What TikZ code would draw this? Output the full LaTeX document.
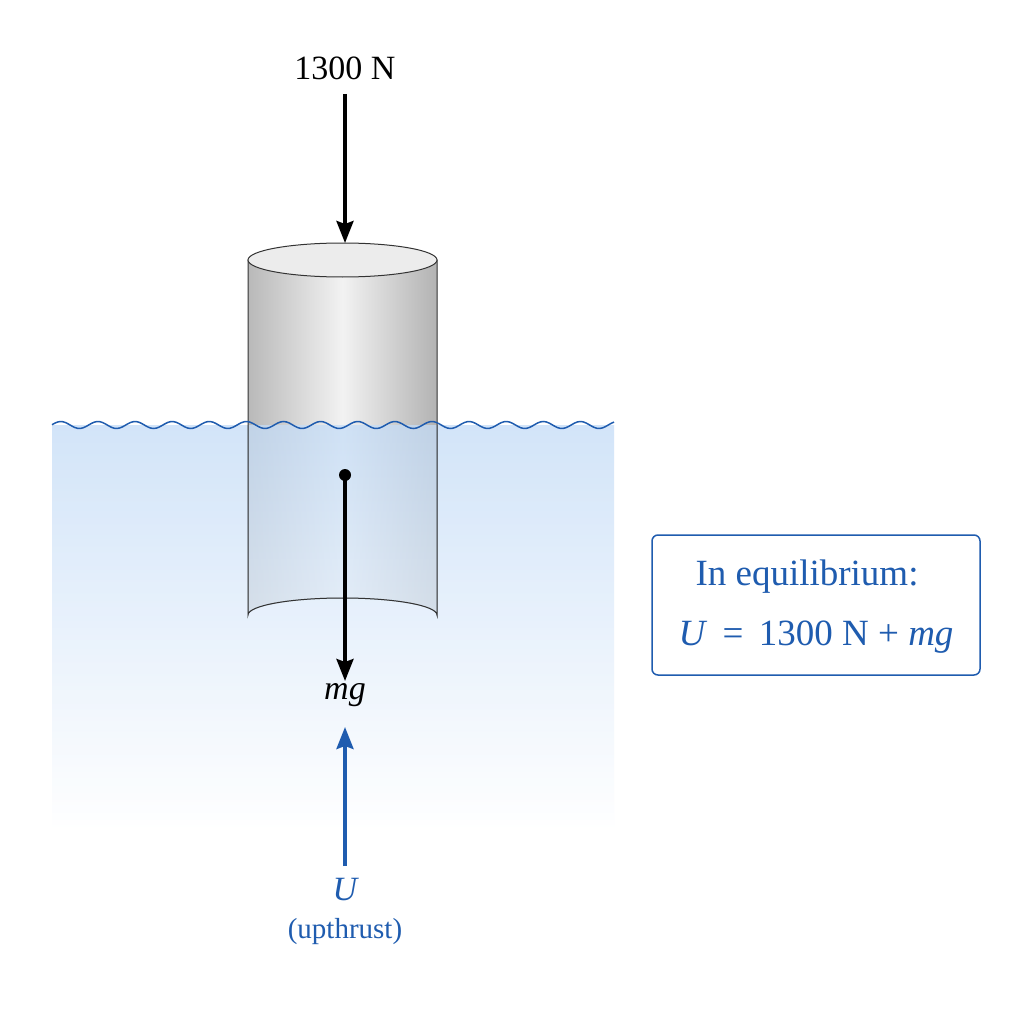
\documentclass[tikz,border=0pt]{standalone}
\usepackage{fontspec}
\setmainfont{Liberation Serif}
\usetikzlibrary{arrows.meta}
\definecolor{wblue}{RGB}{31,92,175}
\definecolor{water}{RGB}{196,220,247}
\begin{document}
\begin{tikzpicture}[x=1pt,y=-1pt,
  lbl/.style={font=\fontsize{34}{40}\selectfont},
  blbl/.style={font=\fontsize{37}{44}\selectfont,text=wblue},
  force/.style={line width=3.5pt,-{Stealth[length=22pt,width=17pt,inset=3pt]}}]
\useasboundingbox (0,0) rectangle (1024,1024);
\fill[white] (0,0) rectangle (1024,1024);
% cylinder body
\shade[left color=gray!55,right color=gray!60,middle color=gray!10,draw=gray!40!black,line width=1pt]
  (248,260) -- (248,615) arc[start angle=180,end angle=360,x radius=94.5,y radius=17] -- (437,260) -- cycle;
\fill[gray!15,draw=gray!40!black,line width=1pt] (342.5,260) ellipse[x radius=94.5,y radius=17];
% water
\shade[top color=water,bottom color=white,opacity=0.75] (52,425) rectangle (614,830);
\draw[wblue,line width=1.5pt] plot[domain=52:614,samples=200,smooth] (\x,{425+3.5*sin(\x*9.7+40)});
\draw[gray!40!black,line width=1pt] (248,425) -- (248,615) arc[start angle=180,end angle=360,x radius=94.5,y radius=17] -- (437,425);
% forces
\node[lbl] (top) at (345,68) {1300 N};
\coordinate (ct) at (345,243);
\draw[force] (345,94) -- (ct);
\coordinate (cg) at (345,475);
\fill (cg) circle[radius=6];
\node[lbl,font=\fontsize{34}{40}\selectfont\itshape] (mg) at (345,695) {mg};
\draw[force] (cg) -- (345,681);
\node[lbl,text=wblue,font=\fontsize{34}{40}\selectfont\itshape] (U) at (345,890) {U};
\node[lbl,text=wblue,font=\fontsize{29}{34}\selectfont] (up) at (345,932) {(upthrust)};
\draw[force,wblue] (345,866) -- (345,727);
% box
\draw[wblue,line width=1.5pt,rounded corners=6pt] (652,535) rectangle (980,675);
\node[blbl] (eq1) at (807,577) {In equilibrium:};
\node[blbl] (eq2) at (816,637) {\textit{U}\, =\, 1300 N + \textit{mg}};
\end{tikzpicture}
\end{document}
